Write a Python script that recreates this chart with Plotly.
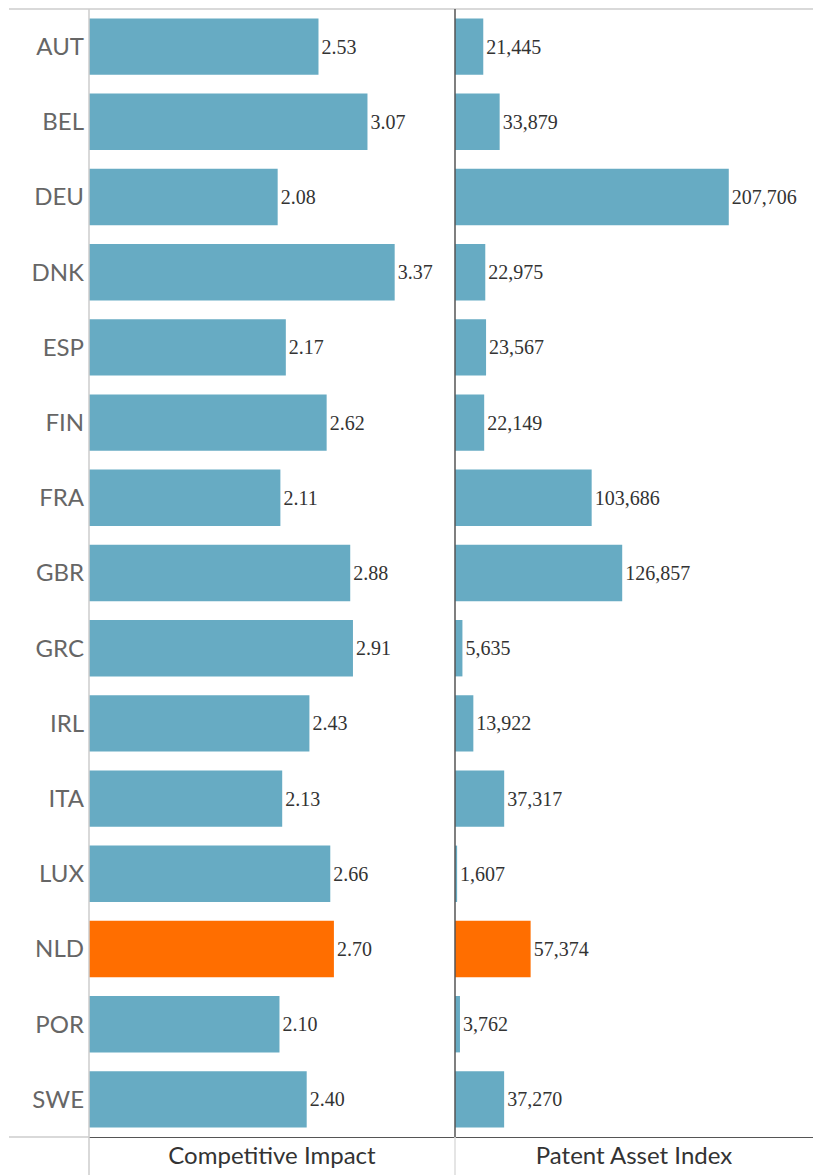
import plotly.graph_objects as go

countries = ["AUT", "BEL", "DEU", "DNK", "ESP", "FIN", "FRA", "GBR", "GRC", "IRL", "ITA", "LUX", "NLD", "POR", "SWE"]
competitive_impact = [2.53, 3.07, 2.08, 3.37, 2.17, 2.62, 2.11, 2.88, 2.91, 2.43, 2.13, 2.66, 2.70, 2.10, 2.40]
patent_asset_index = [21445, 33879, 207706, 22975, 23567, 22149, 103686, 126857, 5635, 13922, 37317, 1607, 57374, 3762, 37270]
highlight = "NLD"

BLUE = "#67abc3"
ORANGE = "#ff6e00"
colors = [ORANGE if c == highlight else BLUE for c in countries]

W, H = 813, 1175
L, R, T, B = 89, 0, 9, 38
split = (455 - L) / (W - L - R)

value_font = dict(family="Liberation Serif", size=20, color="#333333")

fig = go.Figure()
fig.add_trace(go.Bar(
    y=countries, x=competitive_impact, orientation="h",
    marker=dict(color=colors, line=dict(width=0)),
    text=competitive_impact, texttemplate="%{x:.2f}", textposition="outside",
    textfont=value_font,
    cliponaxis=False, xaxis="x", yaxis="y", width=0.75, hoverinfo="skip",
))
fig.add_trace(go.Bar(
    y=countries, x=patent_asset_index, orientation="h",
    marker=dict(color=colors, line=dict(width=0)),
    text=patent_asset_index, texttemplate="%{x:,}", textposition="outside",
    textfont=value_font,
    cliponaxis=False, xaxis="x2", yaxis="y2", width=0.75, hoverinfo="skip",
))

axis_title_font = dict(family="Lato", size=24, color="#333333")
fig.update_layout(
    width=W, height=H,
    margin=dict(l=L, r=R, t=T, b=B),
    paper_bgcolor="white", plot_bgcolor="white",
    showlegend=False, bargap=0.25,
    xaxis=dict(domain=[0, split], range=[0, 4.035], showgrid=False, zeroline=False,
               showticklabels=False, ticks="", showline=True, linecolor="#555555", linewidth=1,
               title=dict(text="Competitive Impact", font=axis_title_font, standoff=10)),
    xaxis2=dict(domain=[split, 1], range=[0, 271600], showgrid=False, zeroline=False,
                showticklabels=False, ticks="", showline=True, linecolor="#555555", linewidth=1,
                title=dict(text="Patent Asset Index", font=axis_title_font, standoff=10)),
    yaxis=dict(anchor="x", autorange="reversed", showgrid=False, ticks="", showline=False,
               tickfont=dict(family="Lato", size=24, color="#666666"), ticklabelstandoff=4),
    yaxis2=dict(anchor="x2", autorange="reversed", showgrid=False, ticks="", showticklabels=False,
                showline=False, matches="y"),
    shapes=[
        dict(type="line", xref="paper", yref="paper", x0=-(L - 9) / (W - L), x1=1, y0=1, y1=1,
             line=dict(color="#cccccc", width=1.5)),
        dict(type="line", xref="paper", yref="paper", x0=0, x1=0, y0=-B / (H - T - B), y1=1,
             line=dict(color="#cccccc", width=1.5)),
        dict(type="line", xref="paper", yref="paper", x0=-(L - 9) / (W - L), x1=0, y0=0, y1=0,
             line=dict(color="#cccccc", width=1.5)),
        dict(type="line", xref="paper", yref="paper", x0=split, x1=split, y0=0, y1=1,
             line=dict(color="#555555", width=1.5)),
        dict(type="line", xref="paper", yref="paper", x0=split, x1=split, y0=-B / (H - T - B), y1=0,
             line=dict(color="#dddddd", width=1.5)),
    ],
)

fig.write_html("out.html", config={"displayModeBar": False},
               post_script="document.body.style.margin='0';document.body.style.padding='0';")
